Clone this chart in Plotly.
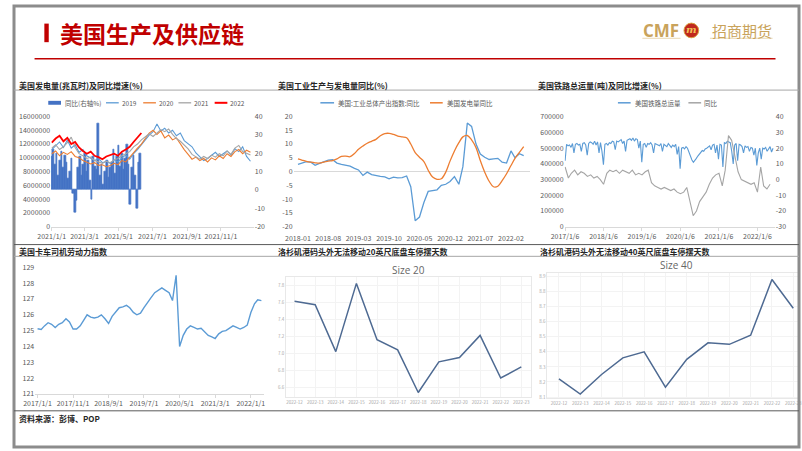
import pandas as pd
import plotly.graph_objects as go

W, H = 802, 451
def px(x): return x / W
def py(y): return 1 - y / H

# ---------------- DATA ----------------
# Panel 1: US power generation (weekly samples, million MWh) overlaid on one calendar year
gen_2019 = [11.2, 11.8, 12.3, 11.5, 12.6, 11.4, 11.9, 10.8, 11.2, 10.3, 10.0, 9.6, 9.9, 9.3, 9.5, 9.2,
            9.7, 9.4, 10.0, 10.4, 9.8, 10.6, 11.2, 11.9, 12.5, 13.3, 13.8, 14.9, 13.9, 14.3, 13.6, 14.0,
            13.2, 13.6, 12.5, 12.0, 11.6, 10.7, 10.1, 9.6, 9.9, 10.3, 10.8, 10.2, 10.6, 11.0, 10.4, 11.3,
            10.9, 11.6, 10.2, 9.5]
gen_2020 = [10.6, 11.0, 10.3, 10.8, 10.5, 10.9, 10.2, 10.0, 9.6, 9.4, 9.1, 9.3, 8.9, 9.0, 8.7, 8.9,
            9.2, 9.0, 9.6, 9.4, 10.1, 10.8, 11.4, 12.0, 12.8, 13.6, 14.0, 13.4, 13.9, 12.9, 13.3, 12.6,
            12.9, 12.0, 11.2, 10.5, 9.8, 10.1, 9.6, 9.9, 9.4, 10.0, 9.7, 10.3, 9.9, 10.6, 10.2, 10.9,
            11.2, 10.6, 11.1, 10.8]
gen_2021 = [11.4, 11.9, 11.2, 11.6, 12.2, 13.0, 11.5, 10.6, 10.3, 9.9, 10.1, 9.6, 9.4, 9.2, 9.5, 9.3,
            9.7, 9.9, 10.3, 10.6, 10.9, 11.6, 12.0, 12.6, 13.0, 13.5, 13.1, 13.6, 14.1, 13.8, 14.2, 13.4,
            12.8, 12.4, 11.9, 11.3, 10.5, 10.1, 9.8, 10.2, 9.9, 10.4, 10.1, 10.6, 10.3, 11.0, 10.5, 11.4,
            11.8, 10.9, 10.7, 10.4]
gen_2022 = [12.2, 12.8, 13.2, 12.4, 12.9, 12.0, 12.3, 11.5, 11.0, 10.6, 10.9, 10.3, 10.1, 9.8, 10.2,
            10.4, 10.6, 10.3, 10.9, 11.2, 11.6, 12.3, 13.0, 13.6]
gen_yoy = [18, 22, 14, 20, 8, 16, 21, 12, 19, 15, 6, 10, 17, -2, -12, -6, 12, 18, 8, 14, 20, 10, 16, 5,
           -5, 18, 13, 11, 36, 8, 14, 3, 10, 16, 7, 12, 15, 22, 9, 18, 24, 13, 20, 11, 17, 25, 14, -8,
           12, 19, 8, -10, 15, 20]

# Panel 2: monthly YoY (%) 2018-01 .. 2022-05
ip_yoy = [2.6, 3.1, 3.6, 3.4, 2.3, 3.0, 3.6, 4.2, 4.3, 3.1, 2.6, 2.4,
          2.0, 1.2, 0.6, -1.4, -0.2, -1.1, -1.5, -1.7, -1.9, -2.6, -2.0, -2.3,
          -2.2, -1.6, -5.5, -17.8, -16.5, -11.2, -7.2, -7.0, -6.6, -5.0, -4.6, -3.6,
          -1.8, -4.6, 1.8, 17.6, 16.4, 10.0, 6.4, 5.2, 4.4, 4.6, 4.8, 3.4,
          3.1, 7.5, 5.0, 6.5, 5.8]
elec_yoy = [4.6, 4.1, 3.7, 3.4, 3.2, 3.1, 3.4, 3.8, 4.0, 4.6, 5.5, 5.6,
            5.4, 6.6, 8.1, 9.3, 10.3, 11.0, 11.7, 13.0, 13.8, 13.9, 13.5, 12.9,
            12.6, 12.3, 10.0, 6.9, 5.2, 3.6, 0.5, -2.0, -2.8, -2.6, -0.2, 3.8,
            7.5, 10.5, 12.6, 13.1, 11.5, 8.7, 4.0, -0.2, -3.5, -5.5, -5.3, -3.3,
            -0.8, 2.2, 4.8, 7.0, 9.1]

# Panel 3: US rail total volume (thousand tons, bi-weekly samples) and YoY (%, monthly)
rail_2017 = [420, 525, 515, 520, 505, 530, 470, 525, 530, 520, 525, 480, 530, 535, 520, 455, 530,
             540, 535, 525, 545, 520, 540, 470, 535, 480]
rail_2018 = [395, 525, 530, 520, 535, 530, 545, 540, 490, 545, 540, 550, 555, 530, 545, 480, 550,
             555, 560, 550, 565, 545, 560, 555, 500, 545]
rail_2019 = [410, 525, 530, 505, 530, 525, 535, 520, 470, 530, 525, 520, 515, 530, 480, 525, 520,
             510, 530, 515, 505, 520, 510, 525, 460, 510]
rail_2020 = [370, 500, 505, 495, 510, 500, 470, 440, 425, 410, 420, 435, 450, 460, 470, 485, 480,
             495, 500, 505, 515, 490, 520, 525, 470, 520]
rail_2021 = [430, 525, 520, 380, 535, 530, 545, 540, 535, 480, 400, 520, 530, 420, 525, 520, 510,
             470, 515, 505, 510, 480, 505, 500, 455, 500, 390]
rail_2022 = [470, 500, 430, 500, 495, 505, 480, 500, 510, 475, 500]
rail_yoy = [8, 1, 4, 6, 3, 5, 4, 2, 3, 1, 2, 0,
            -3, 4, 6, 5, 6, 4, 6, 5, 4, 6, 3, 4,
            3, 5, 6, -2, -4, -5, -6, -5, -6, -7, -6, -8,
            -9, -8, -5, -15, -23, -20, -14, -11, -8, -3, 1, 3,
            4, -4, 6, 28, 25, 15, 5, 0, -1, -2, -3, -2,
            -8, 8, -4, -6, -3]

# Panel 4: US truck driver labour index (monthly, 2017-01 .. 2022-04)
truck_idx = [125.12, 125.08, 125.3, 125.5, 125.4, 125.2, 125.4, 125.5, 125.75, 125.55, 125.1, 125.1,
             125.3, 125.65, 126.0, 125.85, 125.8, 125.85, 126.0, 125.75, 125.45, 125.9, 126.2, 126.45,
             126.5, 126.6, 126.45, 126.15, 126.0, 126.1, 126.45, 126.8, 127.1, 127.4, 127.55, 127.7,
             127.55, 127.4, 126.9, 128.5, 124.0, 124.7, 125.1, 125.3, 125.2, 125.1, 125.15, 124.9,
             124.7, 124.6, 124.5, 124.8, 124.95, 125.0, 125.15, 125.3, 125.2, 125.1, 125.2, 125.35,
             126.15, 126.7, 126.95, 126.9]

# Panels 5/6: LA port chassis dwell days
weeks = ["2022-12", "2022-13", "2022-14", "2022-15", "2022-16", "2022-17",
         "2022-18", "2022-19", "2022-20", "2022-21", "2022-22", "2022-23"]
size20 = [7.61, 7.57, 7.02, 7.82, 7.16, 7.04, 6.54, 6.90, 6.95, 7.21, 6.71, 6.84]
size40 = [8.22, 8.12, 8.25, 8.36, 8.40, 8.165, 8.35, 8.46, 8.45, 8.51, 8.88, 8.69]

# ---------------- FIGURE ----------------
TICK = "#595959"
CJK = "Noto Sans CJK SC"
fig = go.Figure()

# Panel 1
d_yoy = pd.date_range("2021-01-01", periods=len(gen_yoy), freq="3D")
fig.add_trace(go.Bar(x=d_yoy, y=gen_yoy, xaxis="x", yaxis="y", name="同比(右轴%)", width=3 * 86400000,
                     marker=dict(color="#4472C4", line=dict(width=0.7, color="#4472C4"))))
for name, vals, col, w in [("2019", gen_2019, "#5B9BD5", 1.1), ("2020", gen_2020, "#ED7D31", 1.1),
                           ("2021", gen_2021, "#A5A5A5", 1.1), ("2022", gen_2022, "#FF0000", 1.8)]:
    dd = pd.date_range("2021-01-01", periods=len(vals), freq="7D")
    fig.add_trace(go.Scatter(x=dd, y=[v * 1e6 for v in vals], xaxis="x", yaxis="y2", mode="lines",
                             name=name, line=dict(color=col, width=w)))

# Panel 2
d_m2 = pd.date_range("2018-01-01", periods=len(ip_yoy), freq="MS")
fig.add_trace(go.Scatter(x=d_m2, y=ip_yoy, xaxis="x2", yaxis="y3", mode="lines",
                         name="美国:工业总体产出指数:同比", line=dict(color="#5B9BD5", width=1.3)))
fig.add_trace(go.Scatter(x=d_m2, y=elec_yoy, xaxis="x2", yaxis="y3", mode="lines",
                         name="美国发电量同比", line=dict(color="#ED7D31", width=1.3, shape="spline")))

# Panel 3
rail_vol = rail_2017 + rail_2018 + rail_2019 + rail_2020 + rail_2021 + rail_2022
d_rail = pd.date_range("2017-01-06", periods=len(rail_vol), freq="14D")
d_rail_yoy = pd.date_range("2017-01-01", periods=len(rail_yoy), freq="MS") + pd.Timedelta(days=5)
fig.add_trace(go.Scatter(x=d_rail, y=[v * 1000 for v in rail_vol], xaxis="x3", yaxis="y4", mode="lines",
                         name="美国铁路总运量", line=dict(color="#5B9BD5", width=1.1)))
fig.add_trace(go.Scatter(x=d_rail_yoy, y=rail_yoy, xaxis="x3", yaxis="y5", mode="lines",
                         name="同比", line=dict(color="#A5A5A5", width=1.1)))

# Panel 4
d_truck = pd.date_range("2017-01-01", periods=len(truck_idx), freq="MS")
fig.add_trace(go.Scatter(x=d_truck, y=truck_idx, xaxis="x4", yaxis="y6", mode="lines",
                         line=dict(color="#5B9BD5", width=1.4)))

# Panels 5/6
fig.add_trace(go.Scatter(x=weeks, y=size20, xaxis="x5", yaxis="y7", mode="lines",
                         line=dict(color="#4E6A92", width=1.5)))
fig.add_trace(go.Scatter(x=weeks, y=size40, xaxis="x6", yaxis="y8", mode="lines",
                         line=dict(color="#4E6A92", width=1.5)))

tf = dict(size=7, color=TICK)
def ticklab(vals):
    return dict(tickmode="array", tickvals=vals, ticktext=[str(v) for v in vals])

row1 = [py(225.7), py(113)]
fig.update_layout(
    width=W, height=H, margin=dict(l=0, r=0, t=0, b=0),
    paper_bgcolor="white", plot_bgcolor="white", showlegend=False, bargap=0,
    font=dict(family=CJK, color=TICK),
    # panel 1
    xaxis=dict(domain=[px(38), px(245)], anchor="y", type="date", range=["2020-12-31", "2021-12-30"],
               tick0="2021-01-01", dtick="M2", tickformat="%Y/%-m/%-d", showgrid=False, zeroline=False,
               showline=True, linecolor="#D9D9D9", ticks="outside", ticklen=3, tickcolor="#D9D9D9", tickfont=tf),
    yaxis=dict(domain=row1, anchor="x", side="right", range=[-20, 40], showgrid=False, zeroline=False,
               tickfont=tf, **ticklab([-20, -10, 0, 10, 20, 30, 40])),
    yaxis2=dict(overlaying="y", anchor="x", side="left", range=[0, 16e6], dtick=2e6, tickformat="d",
                showgrid=False, zeroline=False, tickfont=tf),
    # panel 2
    xaxis2=dict(domain=[px(285.6), px(527.3)], anchor="y3", type="date", range=["2017-12-01", "2022-06-15"],
                tick0="2018-01-01", dtick="M7", tickformat="%Y-%m", showgrid=False, zeroline=False,
                showline=False, ticks="outside", ticklen=5, tickcolor="rgba(0,0,0,0)", tickfont=tf),
    yaxis3=dict(domain=row1, anchor="x2", range=[-20, 20], showgrid=False, zeroline=True,
                zerolinecolor="#D9D9D9", zerolinewidth=1, tickfont=tf,
                **ticklab([-20, -15, -10, -5, 0, 5, 10, 15, 20])),
    # panel 3
    xaxis3=dict(domain=[px(562.5), px(777.3)], anchor="y4", type="date", range=["2017-01-01", "2022-06-20"],
                tick0="2017-01-06", dtick="M12", tickformat="%Y/%-m/%-d", showgrid=False, zeroline=False,
                showline=True, linecolor="#D9D9D9", ticks="outside", ticklen=3, tickcolor="#D9D9D9", tickfont=tf),
    yaxis4=dict(domain=[py(225.7), py(113.3)], anchor="x3", range=[0, 700000], dtick=100000, tickformat="d",
                showgrid=False, zeroline=False, tickfont=tf),
    yaxis5=dict(overlaying="y4", anchor="x3", side="right", range=[-30, 40], showgrid=False, zeroline=False,
                tickfont=tf, **ticklab([-30, -20, -10, 0, 10, 20, 30, 40])),
    # panel 4
    xaxis4=dict(domain=[px(21.7), px(255)], anchor="y6", type="date", range=["2016-12-12", "2022-04-20"],
                tick0="2017-01-01", dtick="M10", tickformat="%Y/%-m/%-d", showgrid=False, zeroline=False,
                showline=True, linecolor="#D9D9D9", ticks="outside", ticklen=3, tickcolor="#D9D9D9", tickfont=tf),
    yaxis6=dict(domain=[py(396.7), py(267.3)], anchor="x4", range=[121, 129], dtick=1, showgrid=False,
                zeroline=False, tickfont=tf),
    # panel 5
    xaxis5=dict(domain=[px(278), px(528)], anchor="y7", type="category", range=[-0.41, 11.46],
                showgrid=True, gridcolor="#F3F3F3", showline=True, mirror=True, linecolor="#E8E8E8",
                zeroline=False, tickfont=dict(size=4.5, color="#A6A6A6")),
    yaxis7=dict(domain=[py(400), py(276.7)], anchor="x5", range=[6.486, 7.90], dtick=0.2, tickformat=".1f",
                showgrid=True, gridcolor="#F3F3F3", showline=True, mirror=True, linecolor="#E8E8E8",
                zeroline=False, tickfont=dict(size=4.5, color="#A6A6A6")),
    # panel 6
    xaxis6=dict(domain=[px(545), 1.0], anchor="y8", type="category", range=[-0.54, 11.27],
                showgrid=True, gridcolor="#F3F3F3", showline=True, mirror=True, linecolor="#E8E8E8",
                zeroline=False, tickfont=dict(size=4.5, color="#A6A6A6")),
    yaxis8=dict(domain=[py(401), py(273.3)], anchor="x6", range=[8.093, 8.922], dtick=0.1, tickformat=".1f",
                showgrid=True, gridcolor="#F3F3F3", showline=True, mirror=True, linecolor="#E8E8E8",
                zeroline=False, tickfont=dict(size=4.5, color="#A6A6A6")),
)

shapes = []
ann = []
def hline(x0, x1, y, color, width=1):
    shapes.append(dict(type="line", xref="paper", yref="paper", x0=px(x0), x1=px(x1), y0=py(y), y1=py(y),
                       line=dict(color=color, width=width)))
def text(x, y, s, size, color="#262626", xanchor="left", family=CJK, bold=False):
    ann.append(dict(xref="paper", yref="paper", x=px(x), y=py(y), xanchor=xanchor, yanchor="middle",
                    text=f"<b>{s}</b>" if bold else s, showarrow=False,
                    font=dict(size=size, color=color, family=family)))

# header
shapes.append(dict(type="rect", xref="paper", yref="paper", x0=0, x1=1, y0=0, y1=1,
                   line=dict(color="#8C8C8C", width=3)))
shapes.append(dict(type="rect", xref="paper", yref="paper", x0=px(31), x1=px(35.5), y0=py(37), y1=py(18),
                   fillcolor="#C00000", line=dict(width=0)))
text(45, 27.5, "美国生产及供应链", 23, "#C00000", bold=True)
hline(21, 778, 54, "#C00000", 1.5)
text(641, 25, "CMF", 17, "#C9A35B", family="Open Sans", bold=True)
shapes.append(dict(type="circle", xref="paper", yref="paper", x0=px(684.5), x1=px(699.5), y0=py(32.5), y1=py(17.5),
                   fillcolor="#C0281E", line=dict(color="#D9A441", width=1)))
text(692, 24.5, "<i>m</i>", 10, "#F2C35A", xanchor="center", family="DejaVu Serif", bold=True)
text(711, 25, "招商期货", 15, "#C9A35B")
hline(642, 681, 33, "#E3CD9A", 0.8)
hline(711, 775, 33, "#E3CD9A", 0.8)

# panel frame lines
hline(0, 802, 86, "#A6A6A6", 1)
hline(0, 802, 244, "#595959", 1)
hline(0, 802, 256, "#A6A6A6", 1)
hline(0, 802, 414, "#595959", 1)

# panel titles
text(3, 81.5, "美国发电量(兆瓦时)及同比增速(%)", 8, "#262626", bold=True)
text(268, 81.5, "美国工业生产与发电量同比(%)", 8, "#262626", bold=True)
text(533, 81.5, "美国铁路总运量(吨)及同比增速(%)", 8, "#262626", bold=True)
text(3, 251, "美国卡车司机劳动力指数", 8, "#262626", bold=True)
text(268, 251, "洛杉矶港码头外无法移动20英尺底盘车停摆天数", 8, "#262626", bold=True)
text(535, 251, "洛杉矶港码头外无法移动40英尺底盘车停摆天数", 8, "#262626", bold=True)
text(402.7, 270, "Size 20", 10, "#666666", xanchor="center", family="Open Sans")
text(676.7, 265, "Size 40", 10, "#666666", xanchor="center", family="Open Sans")
text(3, 422, "资料来源：彭博、POP", 8, "#262626", bold=True)

# manual legends
def leg_line(x0, x1, y, color, width=1.5):
    shapes.append(dict(type="line", xref="paper", yref="paper", x0=px(x0), x1=px(x1), y0=py(y), y1=py(y),
                       line=dict(color=color, width=width)))
shapes.append(dict(type="rect", xref="paper", yref="paper", x0=px(35), x1=px(48), y0=py(101), y1=py(97),
                   fillcolor="#4472C4", line=dict(width=0)))
text(50, 99, "同比(右轴%)", 6.5, TICK)
for x0, lab, col, w in [(94, "2019", "#5B9BD5", 1.3), (132, "2020", "#ED7D31", 1.3),
                        (168, "2021", "#A5A5A5", 1.3), (205, "2022", "#FF0000", 2)]:
    leg_line(x0, x0 + 13, 99, col, w)
    text(x0 + 14, 99, lab, 6.5, TICK)
leg_line(313, 327, 99, "#5B9BD5")
text(329, 99, "美国:工业总体产出指数:同比", 6.5, TICK)
leg_line(425, 438, 99, "#ED7D31")
text(440, 99, "美国发电量同比", 6.5, TICK)
leg_line(617, 630, 99, "#5B9BD5")
text(632, 99, "美国铁路总运量", 6.5, TICK)
leg_line(689, 702, 99, "#A5A5A5")
text(703, 99, "同比", 6.5, TICK)

fig.update_layout(shapes=shapes, annotations=ann)
fig.write_html("out.html")
